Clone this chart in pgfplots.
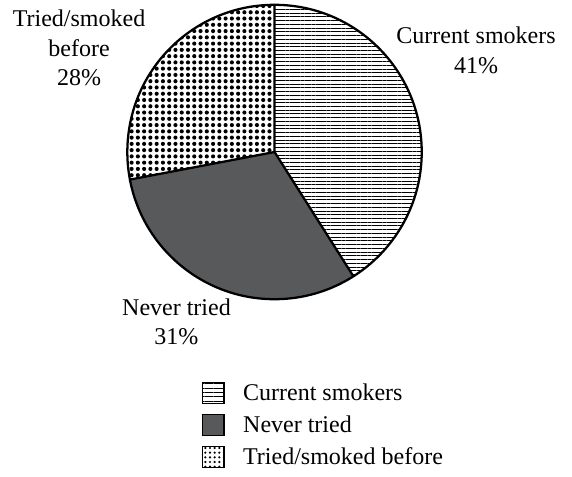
\documentclass[border=0pt]{standalone}
\usepackage{pgfplots}
\pgfplotsset{compat=1.18}
\usepackage{pgfplotstable}
\usetikzlibrary{patterns.meta}
\usepackage{fontspec}
\setmainfont{Liberation Serif}

% Smoking status, percent of respondents
\pgfplotstableread{
share
41
31
28
}\smoking

\definecolor{nevergray}{HTML}{58595B}
\def\R{110.4pt}

\tikzset{
  currstyle/.style={pattern={Lines[angle=0,distance=2.8pt,line width=0.6pt]}},
  neverstyle/.style={fill=nevergray},
  triedstyle/.style={pattern={Dots[distance=4.7pt,radius=1.55pt]}},
  currkey/.style={pattern={Lines[angle=0,distance=3.3pt,line width=0.6pt]}},
  triedkey/.style={pattern={Dots[distance=3.5pt,radius=0.9pt]}},
}

\begin{document}
\begin{tikzpicture}[x=1pt,y=1pt]
% page frame, measured from the centre of the pie
\useasboundingbox (-205.9,-243) rectangle (223.1,114);
\pgfplotstablegetelem{0}{share}\of\smoking \let\curr\pgfplotsretval
\pgfplotstablegetelem{1}{share}\of\smoking \let\never\pgfplotsretval
\pgfplotstablegetelem{2}{share}\of\smoking \let\tried\pgfplotsretval
\pgfmathsetmacro\aA{90-3.6*\curr}
\pgfmathsetmacro\aB{\aA-3.6*\never}
\begin{axis}[
  anchor=origin,
  scale only axis, width=2*\R, height=2*\R,
  xmin=-1, xmax=1, ymin=-1, ymax=1,
  hide axis, clip=false,
  font=\fontsize{18}{22}\selectfont,
  legend style={at={(0.254,-0.279)}, anchor=north west, draw=none,
    inner sep=0pt, column sep=14pt, row sep=7.5pt,
    nodes={inner sep=0pt}, cells={anchor=west},
    font=\fontsize{18}{20}\selectfont},
  legend image code/.code={%
    \draw[line width=0.8pt,#1] (0pt,-7.9pt) rectangle (15.8pt,7.9pt);},
]
\addlegendimage{currkey}
\addlegendentry{Current smokers}
\addlegendimage{neverstyle,line width=2.2pt}
\addlegendentry{Never tried}
\addlegendimage{triedkey}
\addlegendentry{Tried/smoked before}

% wedges, clockwise from twelve o'clock
\fill[currstyle] (axis cs:0,0) -- (axis cs:0,1) arc[start angle=90, end angle=\aA, radius=\R] -- cycle;
\fill[neverstyle] (axis cs:0,0) -- (axis cs:{cos(\aA)},{sin(\aA)}) arc[start angle=\aA, end angle=\aB, radius=\R] -- cycle;
\fill[triedstyle] (axis cs:0,0) -- (axis cs:{cos(\aB)},{sin(\aB)}) arc[start angle=\aB, end angle=-270, radius=\R] -- cycle;
\draw[line width=1.7pt, line join=round] (axis cs:0,1) -- (axis cs:0,0) -- (axis cs:{cos(\aA)},{sin(\aA)});
\draw[line width=1.7pt, line join=round] (axis cs:0,0) -- (axis cs:{cos(\aB)},{sin(\aB)});
\draw[line width=1.7pt] (axis cs:0,0) circle[radius=\R];

\node[align=center] at (axis cs:1.369,0.69) {Current smokers\\\curr\%};
\node[align=center] at (axis cs:-1.328,0.706) {Tried/smoked\\before\\\tried\%};
\node[align=center] at (axis cs:-0.666,-1.155) {Never tried\\\never\%};
\end{axis}
\end{tikzpicture}
\end{document}
